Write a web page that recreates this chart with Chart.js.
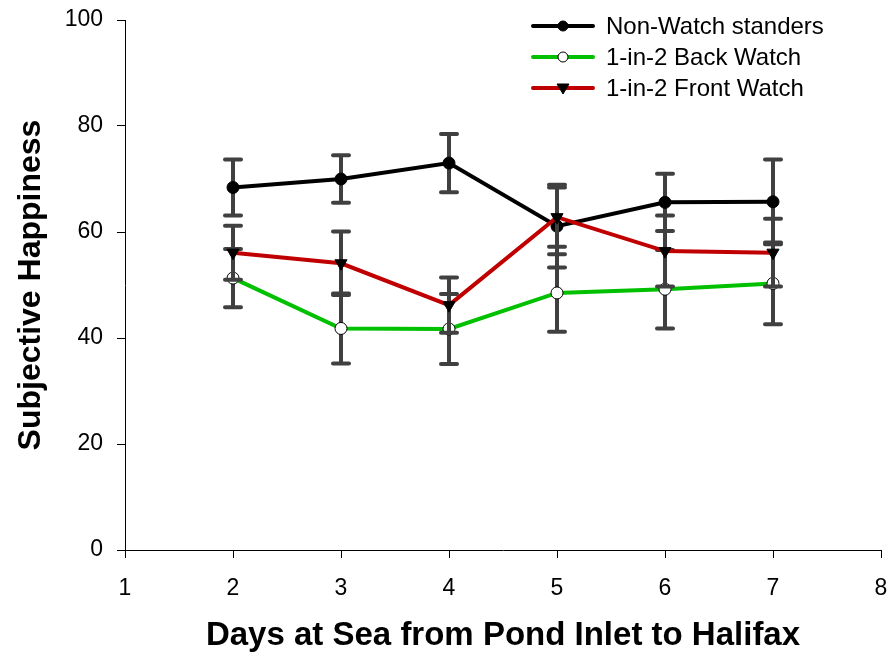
<!DOCTYPE html>
<html>
<head>
<meta charset="utf-8">
<script src="https://cdn.jsdelivr.net/npm/chart.js@4"></script>
<style>
  html, body { margin: 0; padding: 0; background: #ffffff; }
  canvas { display: block; }
</style>
</head>
<body>
<canvas id="c" width="891" height="656"></canvas>
<script>
// ---- data ----
const days = [2, 3, 4, 5, 6, 7];
const seriesNames = ['Non-Watch standers', '1-in-2 Back Watch', '1-in-2 Front Watch'];
const nonWatch      = [68.4, 70.0, 73.0, 61.1, 65.6, 65.7];
const nonWatchErr   = [5.3, 4.5, 5.5, 7.8, 5.4, 8.0];
const backWatch     = [51.3, 41.8, 41.7, 48.5, 49.2, 50.3];
const backWatchErr  = [5.5, 6.6, 6.6, 7.3, 7.4, 7.7];
const frontWatch    = [56.1, 54.1, 46.2, 62.8, 56.4, 56.1];
const frontWatchErr = [5.1, 6.0, 5.2, 5.6, 6.7, 6.4];
const xTicks = [1, 2, 3, 4, 5, 6, 7, 8];
const yTicks = [0, 20, 40, 60, 80, 100];
const xTitle = 'Days at Sea from Pond Inlet to Halifax';
const yTitle = 'Subjective Happiness';

const FONT = "'Liberation Sans', Arial, Helvetica, sans-serif";

function pts(vals) { return days.map((d, i) => ({ x: d, y: vals[i] })); }

const errs = [nonWatchErr, backWatchErr, frontWatchErr];

const errorBarPlugin = {
  id: 'errorBars',
  beforeDatasetDraw(chart, args) {
    const i = args.index;
    const err = errs[i];
    if (!err) return;
    const ds = chart.data.datasets[i];
    const xs = chart.scales.x, ys = chart.scales.y;
    const ctx = chart.ctx;
    ctx.save();
    ctx.strokeStyle = '#404040';
    ctx.lineWidth = 4;
    ctx.lineCap = 'round';
    ds.data.forEach((p, k) => {
      const px = xs.getPixelForValue(p.x);
      const top = ys.getPixelForValue(p.y + err[k]);
      const bot = ys.getPixelForValue(p.y - err[k]);
      ctx.beginPath();
      ctx.moveTo(px, top); ctx.lineTo(px, bot);
      ctx.moveTo(px - 8, top); ctx.lineTo(px + 8, top);
      ctx.moveTo(px - 8, bot); ctx.lineTo(px + 8, bot);
      ctx.stroke();
    });
    ctx.restore();
  }
};

const legendPlugin = {
  id: 'customLegend',
  afterDraw(chart) {
    const ctx = chart.ctx;
    const x0 = 533, x1 = 593, tx = 606;
    const ys = [26, 57, 88];
    ctx.save();
    chart.data.datasets.forEach((ds, i) => {
      const y = ys[i];
      ctx.strokeStyle = ds.borderColor;
      ctx.lineWidth = 4;
      ctx.lineCap = 'round';
      ctx.beginPath(); ctx.moveTo(x0, y); ctx.lineTo(x1, y); ctx.stroke();
      const cx = (x0 + x1) / 2;
      ctx.lineWidth = 1;
      ctx.lineCap = 'butt';
      ctx.fillStyle = ds.pointBackgroundColor;
      ctx.strokeStyle = ds.pointBorderColor;
      if (ds.pointStyle === 'triangle') {
        ctx.beginPath();
        ctx.moveTo(cx - 6, y - 4); ctx.lineTo(cx + 6, y - 4); ctx.lineTo(cx, y + 6);
        ctx.closePath(); ctx.fill(); ctx.stroke();
      } else {
        ctx.beginPath(); ctx.arc(cx, y, 5, 0, Math.PI * 2); ctx.fill(); ctx.stroke();
      }
      ctx.fillStyle = '#000';
      ctx.font = '24px ' + FONT;
      ctx.textBaseline = 'middle';
      ctx.textAlign = 'left';
      ctx.fillText(seriesNames[i], tx, y + 1);
    });
    ctx.restore();
  }
};

new Chart(document.getElementById('c'), {
  type: 'line',
  data: {
    datasets: [
      { label: seriesNames[0], data: pts(nonWatch), order: 3,
        borderColor: '#000000', borderWidth: 4, pointStyle: 'circle', pointRadius: 6,
        pointBackgroundColor: '#000000', pointBorderColor: '#000000', pointBorderWidth: 1 },
      { label: seriesNames[1], data: pts(backWatch), order: 2,
        borderColor: '#00C000', borderWidth: 4, pointStyle: 'circle', pointRadius: 6,
        pointBackgroundColor: '#ffffff', pointBorderColor: '#000000', pointBorderWidth: 1 },
      { label: seriesNames[2], data: pts(frontWatch), order: 1,
        borderColor: '#C00000', borderWidth: 4, pointStyle: 'triangle', pointRadius: 7, pointRotation: 180,
        pointBackgroundColor: '#000000', pointBorderColor: '#000000', pointBorderWidth: 1 }
    ]
  },
  options: {
    responsive: false,
    animation: false,
    devicePixelRatio: 1,
    layout: { padding: { left: 0, right: 10, top: 20, bottom: 0 } },
    plugins: { legend: { display: false }, tooltip: { enabled: false } },
    elements: { line: { tension: 0 } },
    scales: {
      x: {
        type: 'linear', min: 1, max: 8,
        afterBuildTicks: (s) => { s.ticks = xTicks.map(v => ({ value: v })); },
        afterFit: (s) => { s.height = 106; s.paddingLeft = 0; s.paddingRight = 0; },
        ticks: { color: '#000', font: { family: FONT, size: 23 }, padding: 17 },
        grid: { display: true, drawOnChartArea: false, drawTicks: true, tickLength: 8, color: '#000', lineWidth: 1 },
        border: { display: true, color: '#000', width: 1 },
        title: { display: true, text: xTitle, color: '#000',
                 font: { family: FONT, size: 33, weight: 'bold' }, padding: { top: 0, bottom: 0 } }
      },
      y: {
        type: 'linear', min: 0, max: 100,
        afterBuildTicks: (s) => { s.ticks = yTicks.map(v => ({ value: v })); },
        afterFit: (s) => { s.width = 125; s.paddingTop = 0; s.paddingBottom = 0; },
        ticks: { color: '#000', font: { family: FONT, size: 23 }, padding: 14 },
        grid: { display: true, drawOnChartArea: false, drawTicks: true, tickLength: 8, color: '#000', lineWidth: 1 },
        border: { display: true, color: '#000', width: 1 },
        title: { display: true, text: yTitle, color: '#000',
                 font: { family: FONT, size: 32, weight: 'bold' }, padding: { top: 12, bottom: 0 } }
      }
    }
  },
  plugins: [errorBarPlugin, legendPlugin]
});
</script>
</body>
</html>
